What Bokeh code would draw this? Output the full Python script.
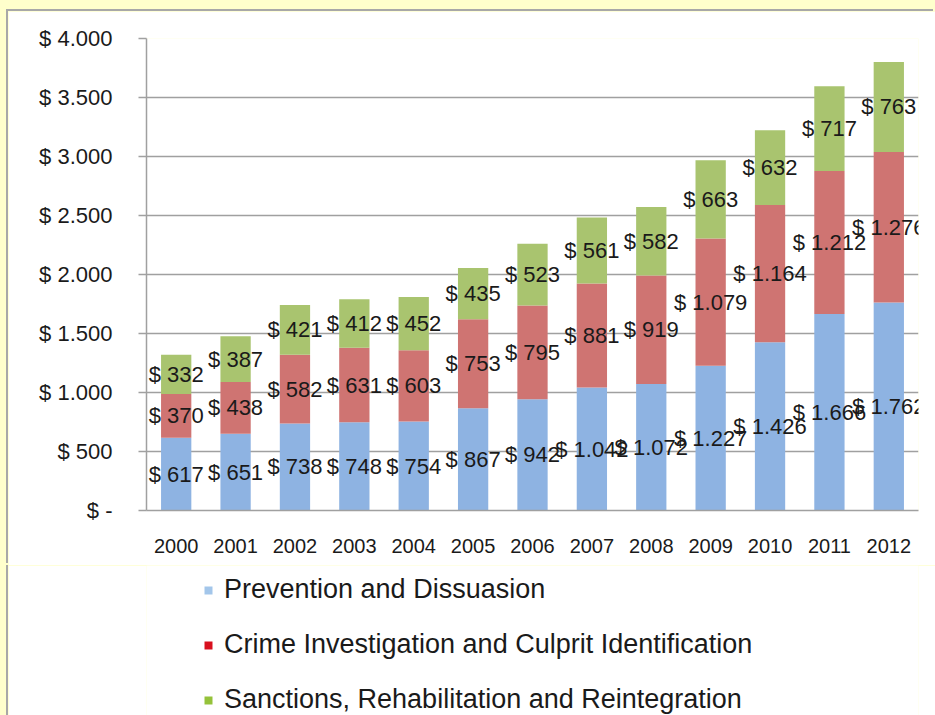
from bokeh.plotting import figure
from bokeh.models import (FactorRange, FixedTicker, Legend, LegendItem, ColumnDataSource, Range1d)
from bokeh.layouts import column
from bokeh.core.properties import value
from bokeh.embed import file_html
from bokeh.resources import INLINE

years = ["2000", "2001", "2002", "2003", "2004", "2005", "2006",
         "2007", "2008", "2009", "2010", "2011", "2012"]
prevention = [617, 651, 738, 748, 754, 867, 942, 1042, 1072, 1227, 1426, 1666, 1762]
investigation = [370, 438, 582, 631, 603, 753, 795, 881, 919, 1079, 1164, 1212, 1276]
sanctions = [332, 387, 421, 412, 452, 435, 523, 561, 582, 663, 632, 717, 763]
series_names = ["Prevention and Dissuasion",
                "Crime Investigation and Culprit Identification",
                "Sanctions, Rehabilitation and Reintegration"]
y_ticks = [0, 500, 1000, 1500, 2000, 2500, 3000, 3500, 4000]
y_tick_labels = ["$ -", "$ 500", "$ 1.000", "$ 1.500", "$ 2.000",
                 "$ 2.500", "$ 3.000", "$ 3.500", "$ 4.000"]

bar_colors = ["#8EB3E2", "#CF7472", "#A9C46F"]
legend_colors = ["#A3C6EA", "#D8101E", "#95C23A"]
FONT = "Liberation Sans"
TEXT = "#1a1a1a"
GRID = "#a0a0a0"


def money(v):
    return "$ " + f"{v:,}".replace(",", ".")


keys = ["prevention", "investigation", "sanctions"]
data = dict(years=years, prevention=prevention, investigation=investigation, sanctions=sanctions)
src = ColumnDataSource(data)

p = figure(x_range=FactorRange(*years, range_padding=0), y_range=Range1d(0, 4000),
           width=927, height=554, output_backend="svg", toolbar_location=None,
           min_border_left=138, min_border_top=27, min_border_right=17, min_border_bottom=55,
           border_fill_color="white", background_fill_color="white")
p.margin = (11, 0, 0, 8)
p.styles = {"box-shadow": "-2px -2px 0 0 #a8a8a8"}
p.outline_line_color = None

p.vbar_stack(keys, x="years", width=0.51, color=bar_colors, line_color=None, source=src)

# data labels at centre of each segment
lab_x, lab_y, lab_t = [], [], []
for i, yr in enumerate(years):
    base = 0
    for ser in (prevention, investigation, sanctions):
        v = ser[i]
        lab_x.append(yr)
        lab_y.append(base + v / 2)
        lab_t.append(money(v))
        base += v
p.text(x=lab_x, y=lab_y, text=lab_t, text_align="center", text_baseline="middle",
       text_font=value(FONT), text_font_size="22px", text_color=TEXT)

# axes
p.yaxis.ticker = FixedTicker(ticks=y_ticks)
p.yaxis.major_label_overrides = {t: l for t, l in zip(y_ticks, y_tick_labels)}
p.yaxis.major_label_text_font = FONT
p.yaxis.major_label_text_font_size = "22px"
p.yaxis.major_label_text_color = TEXT
p.yaxis.axis_line_color = GRID
p.yaxis.axis_line_width = 1.5
p.yaxis.major_tick_line_color = GRID
p.yaxis.major_tick_line_width = 1.5
p.yaxis.major_tick_out = 8
p.yaxis.major_tick_in = 0
p.yaxis.minor_tick_line_color = None
p.yaxis.major_label_standoff = 26

p.xaxis.major_label_text_font = FONT
p.xaxis.major_label_text_font_size = "20px"
p.xaxis.major_label_text_color = TEXT
p.xaxis.axis_line_color = GRID
p.xaxis.axis_line_width = 1.5
p.xaxis.major_tick_line_color = None
p.xaxis.major_tick_out = 0
p.xaxis.major_label_standoff = 28

p.xgrid.grid_line_color = None
p.ygrid.grid_line_color = GRID
p.ygrid.grid_line_width = 1.5

# legend panel below the chart (swatches as drawn in the reference legend);
# the proxy renderers hold one point lying outside the panel's visible range
lg = figure(width=927, height=150, output_backend="svg", toolbar_location=None,
            x_range=Range1d(0, 1), y_range=Range1d(0, 1), x_axis_type=None, y_axis_type=None,
            min_border=0, border_fill_color="white", background_fill_color="white")
lg.margin = (0, 0, 0, 8)
lg.styles = {"box-shadow": "-2px 0 0 0 #a8a8a8"}
lg.outline_line_color = None
lg.grid.grid_line_color = None
items = []
for name, c in zip(series_names, legend_colors):
    r = lg.quad(left=[-3], right=[-2], top=[-2], bottom=[-3], fill_color=c, line_color=None)
    items.append(LegendItem(label=name, renderers=[r]))
legend = Legend(items=items, location=(57, 0), orientation="vertical",
                label_text_font=FONT, label_text_font_size="27px", label_text_color=TEXT,
                label_height=30, glyph_height=10, glyph_width=10, label_standoff=11,
                spacing=24, padding=0, margin=0, border_line_color=None,
                background_fill_alpha=0)
lg.add_layout(legend, "center")

layout = column(p, lg, width=935, height=715, spacing=0,
                styles={"background-color": "#FFFFCC"})

open("out.html", "w").write(file_html(layout, INLINE))
